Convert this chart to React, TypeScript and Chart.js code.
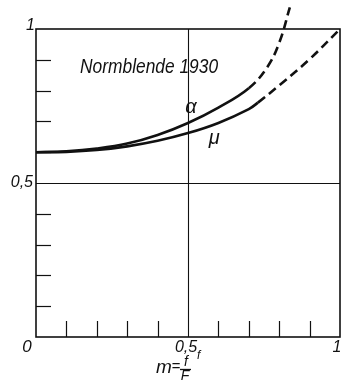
import React, { useEffect, useRef } from "react";
import { Chart, registerables } from "chart.js";

Chart.register(...registerables);

// ---- data ----
const alphaX = [0, 0.1, 0.2, 0.3, 0.4, 0.5, 0.6, 0.7, 0.76, 0.8, 0.835];
const alphaY = [0.6, 0.603, 0.612, 0.628, 0.656, 0.695, 0.745, 0.808, 0.875, 0.955, 1.07];
const alphaSolidUntil = 0.7;

const muX = [0, 0.1, 0.2, 0.3, 0.4, 0.5, 0.6, 0.7, 0.73, 0.8, 0.9, 1.0];
const muY = [0.6, 0.601, 0.607, 0.619, 0.637, 0.662, 0.695, 0.74, 0.761, 0.817, 0.902, 1.0];
const muSolidUntil = 0.73;

const minorTicks = [0.1, 0.2, 0.3, 0.4, 0.6, 0.7, 0.8, 0.9];
const gridValues = [0.5];
const xLabelValues = [0.5, 1];
const xLabelTexts = ["0,5", "1"];
const yLabelValues = [1, 0.5];
const yLabelTexts = ["1", "0,5"];
const originLabel = "0";
const chartTitle = "Normblende 1930";
const curveNames = ["α", "μ"];
const axisTitle = ["m", "=", "f", "F"];

const FONT = '"Liberation Sans Narrow", "Liberation Sans", Arial, sans-serif';
const INK = "#111";

const decorPlugin = {
  id: "decor",
  beforeDatasetsDraw(chart: any) {
    const { ctx, chartArea: a, scales } = chart;
    const xs = scales.x;
    const ys = scales.y;
    ctx.save();
    ctx.strokeStyle = INK;
    ctx.lineWidth = 1.1;
    gridValues.forEach((v) => {
      const px = Math.round(xs.getPixelForValue(v)) + 0.5;
      ctx.beginPath();
      ctx.moveTo(px, a.top);
      ctx.lineTo(px, a.bottom);
      ctx.stroke();
      const py = Math.round(ys.getPixelForValue(v)) + 0.5;
      ctx.beginPath();
      ctx.moveTo(a.left, py);
      ctx.lineTo(a.right, py);
      ctx.stroke();
    });
    ctx.lineWidth = 1.2;
    minorTicks.forEach((v) => {
      const px = Math.round(xs.getPixelForValue(v)) + 0.5;
      ctx.beginPath();
      ctx.moveTo(px, a.bottom);
      ctx.lineTo(px, a.bottom - 16);
      ctx.stroke();
      const py = Math.round(ys.getPixelForValue(v)) + 0.5;
      ctx.beginPath();
      ctx.moveTo(a.left, py);
      ctx.lineTo(a.left + 15, py);
      ctx.stroke();
    });
    ctx.lineWidth = 1.6;
    ctx.strokeRect(a.left, a.top, a.right - a.left, a.bottom - a.top);
    ctx.restore();
  },
  afterDraw(chart: any) {
    const { ctx, chartArea: a, scales } = chart;
    const xs = scales.x;
    const ys = scales.y;
    ctx.save();
    ctx.fillStyle = INK;
    ctx.textBaseline = "middle";
    ctx.font = `italic 16px ${FONT}`;
    ctx.textAlign = "right";
    yLabelValues.forEach((v, i) => {
      const py = ys.getPixelForValue(v);
      ctx.fillText(yLabelTexts[i], a.left - (v === 1 ? 1 : 3), py + (v === 1 ? -3 : 0));
    });
    ctx.textAlign = "center";
    xLabelValues.forEach((v, i) => {
      const px = xs.getPixelForValue(v);
      ctx.fillText(xLabelTexts[i], px + (v === 1 ? -3 : -2), a.bottom + 11);
    });
    ctx.font = `italic 17px ${FONT}`;
    ctx.fillText(originLabel, a.left - 9, a.bottom + 10);
    ctx.font = `italic 12px ${FONT}`;
    ctx.textAlign = "left";
    ctx.fillText(axisTitle[2], xs.getPixelForValue(0.5) + 9, a.bottom + 19);
    const mx = xs.getPixelForValue(0.5);
    ctx.textAlign = "center";
    ctx.font = `italic 19px ${FONT}`;
    ctx.fillText(axisTitle[0], mx - 24, a.bottom + 31);
    ctx.font = `italic 15px ${FONT}`;
    ctx.fillText(axisTitle[1], mx - 12, a.bottom + 30);
    ctx.font = `italic 14px ${FONT}`;
    ctx.fillText(axisTitle[2], mx - 2, a.bottom + 25);
    ctx.fillText(axisTitle[3], mx - 3, a.bottom + 39);
    ctx.lineWidth = 1.3;
    ctx.strokeStyle = INK;
    ctx.beginPath();
    ctx.moveTo(mx - 8, a.bottom + 32.5);
    ctx.lineTo(mx + 3, a.bottom + 32.5);
    ctx.stroke();
    ctx.font = `italic 20px ${FONT}`;
    ctx.textAlign = "left";
    ctx.textBaseline = "alphabetic";
    ctx.fillText(chartTitle, xs.getPixelForValue(0.145), ys.getPixelForValue(0.857), 138);
    ctx.font = `italic 20px ${FONT}`;
    ctx.textAlign = "center";
    ctx.textBaseline = "middle";
    ctx.fillText(curveNames[0], xs.getPixelForValue(0.51), ys.getPixelForValue(0.745));
    ctx.fillText(curveNames[1], xs.getPixelForValue(0.586), ys.getPixelForValue(0.645));
    ctx.restore();
  },
};

function toPoints(xv: number[], yv: number[]) {
  return xv.map((x, i) => ({ x, y: yv[i] }));
}

export default function App() {
  const ref = useRef<HTMLCanvasElement | null>(null);
  useEffect(() => {
    if (!ref.current) return;
    const dash = [9, 5];
    const chart = new Chart(ref.current, {
      type: "line",
      data: {
        datasets: [
          {
            label: curveNames[0],
            data: toPoints(alphaX, alphaY),
            borderColor: INK,
            borderWidth: 2.6,
            pointRadius: 0,
            tension: 0.4,
            clip: false as any,
            segment: {
              borderDash: (c: any) => (c.p0.parsed.x >= alphaSolidUntil - 1e-9 ? dash : undefined),
            },
          },
          {
            label: curveNames[1],
            data: toPoints(muX, muY),
            borderColor: INK,
            borderWidth: 2.6,
            pointRadius: 0,
            tension: 0.4,
            clip: false as any,
            segment: {
              borderDash: (c: any) => (c.p0.parsed.x >= muSolidUntil - 1e-9 ? dash : undefined),
            },
          },
        ],
      },
      options: {
        animation: false,
        responsive: false,
        layout: { padding: { left: 36, top: 29, right: 2, bottom: 45 } },
        plugins: { legend: { display: false }, tooltip: { enabled: false } },
        scales: {
          x: { type: "linear", min: 0, max: 1, display: false },
          y: { type: "linear", min: 0, max: 1, display: false },
        },
      } as any,
      plugins: [decorPlugin],
    });
    return () => chart.destroy();
  }, []);
  return (
    <div style={{ position: "absolute", left: 0, top: 0, width: 342, height: 382, background: "#fff" }}>
      <canvas ref={ref} width={342} height={382} style={{ display: "block" }} />
    </div>
  );
}
